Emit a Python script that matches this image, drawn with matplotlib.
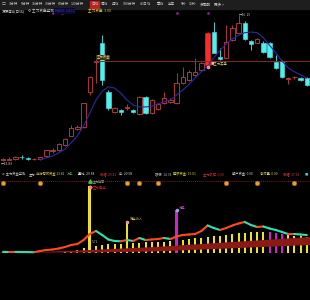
import numpy as np
import matplotlib
matplotlib.use('Agg')
import matplotlib.pyplot as plt
from matplotlib.collections import LineCollection
from matplotlib.patches import Rectangle

plt.rcParams['font.family'] = ['Noto Sans CJK SC', 'DejaVu Sans']

# toolbar periods
periods = ['1分钟', '5分钟', '15分钟', '30分钟', '60分钟', '120分钟', '日线', '周线', '月线',
           '180分钟', '45日线', '季线', '半年', '5秒', '15秒', '多周期', '更多 >']
period_x = [9, 21, 32, 45, 58, 71, 91, 101, 112, 123, 140, 157, 168, 181, 189, 200, 214]

# daily candles
opens = [13.85, 13.85, 13.86, 13.90, 13.88, 13.86, 13.86, 13.91, 13.99, 14.00,
         14.08, 14.23, 14.34, 14.37, 14.93, 15.40, 15.71, 14.93, 14.61, 14.64,
         14.68, 14.64, 14.58, 14.85, 14.59, 14.66, 14.75, 14.77, 14.75, 15.07,
         15.12, 15.20, 15.28, 15.36, 15.88, 15.48, 15.47, 15.75, 15.87, 16.02,
         15.74, 15.71, 15.71, 15.71, 15.40, 15.42, 15.14, 15.16, 15.15, 15.15]
highs = [13.88, 13.89, 13.91, 13.92, 13.89, 13.88, 13.90, 14.01, 14.03, 14.11,
         14.19, 14.40, 14.40, 14.76, 15.18, 15.45, 15.83, 14.96, 14.69, 14.66,
         14.74, 14.66, 14.86, 14.87, 14.82, 14.75, 14.93, 14.83, 15.23, 15.32,
         15.28, 15.47, 15.41, 15.88, 16.04, 15.63, 15.99, 15.99, 16.15, 16.06,
         15.75, 15.79, 15.74, 15.72, 15.52, 15.44, 15.17, 15.18, 15.17, 15.16]
lows = [13.83, 13.84, 13.85, 13.87, 13.85, 13.85, 13.85, 13.90, 13.96, 13.99,
        14.07, 14.22, 14.33, 14.36, 14.88, 15.07, 15.04, 14.64, 14.59, 14.56,
        14.64, 14.59, 14.56, 14.58, 14.58, 14.64, 14.74, 14.75, 14.74, 15.05,
        15.10, 15.18, 15.26, 15.34, 15.54, 15.44, 15.45, 15.74, 15.86, 15.75,
        15.59, 15.70, 15.55, 15.47, 15.30, 15.15, 15.05, 15.14, 15.10, 15.02]
closes = [13.86, 13.87, 13.89, 13.89, 13.86, 13.87, 13.89, 14.00, 14.00, 14.10,
          14.18, 14.35, 14.37, 14.75, 15.17, 15.42, 15.12, 14.67, 14.67, 14.61,
          14.69, 14.61, 14.85, 14.59, 14.80, 14.74, 14.83, 14.80, 15.07, 15.17,
          15.25, 15.25, 15.39, 15.87, 15.55, 15.45, 15.72, 15.94, 16.02, 15.77,
          15.69, 15.77, 15.56, 15.48, 15.31, 15.17, 15.15, 15.17, 15.12, 15.04]
ma60 = [np.nan] * 6 + [13.85, 13.88, 13.91, 13.96, 14.02, 14.12, 14.23, 14.39, 14.59, 14.80,
                       14.94, 15.01, 14.99, 14.91, 14.80, 14.72, 14.69, 14.69, 14.70, 14.74,
                       14.77, 14.80, 14.88, 14.96, 15.05, 15.15, 15.25, 15.34, 15.47, 15.59,
                       15.69, 15.77, 15.83, 15.87, 15.88, 15.87, 15.79, 15.67, 15.55, 15.42,
                       15.31, 15.25, 15.20, 15.15]
strong_day = 33          # big solid red candle
pressure_level = 15.42   # horizontal line
pressure_start = 14.8
top_marks = [8, 9.5, 28, 33]
high_day, high_price = 38, 16.15
low_day, low_price = 0, 13.83

# indicator pane
flow_line = [0.12, 0.10, 0.12, 0.10, 0.08, 0.06, 0.3, 0.5, 0.6, 0.8,
             1.1, 1.5, 1.7, 2.5, 3.7, 4.3, 3.5, 2.6, 2.3, 2.25,
             2.5, 2.3, 2.9, 2.5, 2.6, 2.7, 2.9, 2.7, 3.2, 3.5,
             3.6, 3.7, 4.3, 5.4, 4.9, 4.5, 4.9, 5.4, 5.8, 6.1,
             5.5, 5.1, 5.2, 4.8, 4.5, 4.1, 3.7, 3.7, 3.6, 3.5]
flow_bars = [0, 0, 0, 0, 0, 0, 0, 0, 0, 0,
             0.1, 0.3, 0.5, 0.9, 13.3, 1.3, 1.5, 1.7, 1.7, 1.7,
             6.1, 1.9, 1.9, 2.1, 2.1, 2.1, 2.1, 2.3, 8.5, 2.5,
             2.7, 2.9, 2.9, 3.1, 3.3, 3.3, 3.5, 3.7, 3.9, 3.9,
             4.1, 4.1, 4.1, 4.1, 3.9, 3.7, 3.5, 3.4, 3.3, 3.2]
wash_days = [28, 43, 44, 45]
spike_days = [14, 20, 28]
wedge_x = [-0.5, 6, 14, 24.5, 49.6]
wedge_lo = [0, 0, 0, 0.2, 1.5]
wedge_hi = [0.1, 0.1, 0.5, 1.1, 3.1]
signal_days = [0, 6, 20, 22, 25, 36, 41, 47]

header_items = [('⚙ 主力资金监测', 2, '#c8c8c8'), ('主力:', 29, '#c8c8c8'),
                ('当时有效资金 13.82', 36, '#e0d040'), ('万手', 67, '#70a060'),
                ('量比: 29.58', 78, '#e0e0e0'), ('涨幅: 29.42', 100, '#e03030'),
                ('中: 29.58', 119, '#e0e0e0'), ('强弱: 14.38', 155, '#b0b0b0'),
                ('超额资金: 15.01', 173, '#d8d040'), ('主力吸筹: 0.00', 203, '#e03030'),
                ('散户资金: 0.00', 232, '#d0d0d0'), ('净流量: 0.00', 260, '#d8d040'),
                ('涨幅: 17.32', 283, '#e04040'), ('■', 305, '#30d0d0')]

RED = '#c84040'
CYAN = '#50f0f0'


def fy(y):
    return 1 - y / 300.0


fig = plt.figure(figsize=(3.1, 3.0), dpi=100, facecolor='black')

# toolbar
fig.patches.append(Rectangle((0, fy(8.5)), 1, 8.5 / 300, transform=fig.transFigure,
                             color='#1e1e1e', zorder=0))
fig.text(2 / 310, fy(4.3), '□', color='#b0b0b0', fontsize=2.8, va='center')
for lab, x in zip(periods, period_x):
    if lab == '日线':
        fig.patches.append(Rectangle(((x - 1.5) / 310, fy(7.8)), 10 / 310, 7 / 300,
                                     transform=fig.transFigure, color='#c02020'))
    fig.text(x / 310, fy(4.3), lab, color='#c8c8c8', fontsize=2.6, va='center')

# title line
fig.text(2 / 310, fy(11), '深深房A(日线)', color='#d0d0d0', fontsize=2.6, va='center')
fig.text(28 / 310, fy(11), '⚙ 主力资金监测', color='#c8c8c8', fontsize=2.6, va='center')
fig.text(55 / 310, fy(11), 'MA60: 14.11', color='#3030d0', fontsize=2.6, va='center',
         bbox=dict(boxstyle='square,pad=0.15', fc='#0a0a30', ec='none'))
fig.text(88 / 310, fy(11), '主力资金: 3.00', color='#e0d040', fontsize=2.6, va='center')

# main candle pane
ax = fig.add_axes([0, fy(168), 1, (168 - 15) / 300])
ax.set_xlim(-0.48, 49.52)
ax.set_ylim(13.719, 16.151)
ax.axis('off')

w = 0.72
for i in range(len(opens)):
    o, h, l, c = opens[i], highs[i], lows[i], closes[i]
    up = c >= o
    col = RED if up else CYAN
    if i == strong_day:
        col = '#ff2a2a'
    b0, b1 = min(o, c), max(o, c)
    ax.vlines(i, l, b0, color=col, lw=0.6)
    ax.vlines(i, b1, h, color=col, lw=0.6)
    hgt = max(b1 - b0, 0.006)
    if up and i != strong_day:
        ax.add_patch(Rectangle((i - w / 2, b0), w, hgt, facecolor='black', edgecolor=col, lw=0.6))
    else:
        ax.add_patch(Rectangle((i - w / 2, b0), w, hgt, facecolor=col, edgecolor=col, lw=0.4))

ax.plot(range(len(ma60)), ma60, color='#2a2aa8', lw=0.8)
ax.hlines(pressure_level, pressure_start, 49.6, color='#8a2a2a', lw=0.7)
ax.text(15.1, 15.48, '主力资金', color='#d8c878', fontsize=2.4, va='center',
        bbox=dict(boxstyle='square,pad=0.1', fc='#3a3410', ec='none'))
ax.plot(strong_day, lows[strong_day] - 0.02, 'o', color='#ff8080', ms=2.2, mec='#ffd0d0', mew=0.3)
ax.text(strong_day + 0.5, lows[strong_day] + 0.03, '■主力买盘', color='#d8c870', fontsize=2.4,
        va='center')
ax.text(high_day, high_price, '←16.15', color='#c8c8c8', fontsize=2.5, va='center',
        clip_on=False)
ax.text(low_day - 0.4, low_price - 0.05, '←13.83', color='#c8c8c8', fontsize=2.5,
        va='center')
ax.plot(top_marks, [16.18] * len(top_marks), 's', color='#a020a0', ms=0.8, clip_on=False)

# indicator header
for txt, x, col in header_items:
    fig.text(x / 310, fy(174), txt, color=col, fontsize=2.35, va='center')

# indicator pane
ax2 = fig.add_axes([0, 0, 1, (300 - 176) / 300])
ax2.set_xlim(-0.48, 49.52)
ax2.set_ylim(-9.5, 15.3)
ax2.axis('off')

ax2.axhline(14.3, color='#8a2424', lw=0.7, linestyle=(0, (0.8, 1.2)))

idx = np.arange(len(flow_bars))
bar_cols = []
for i in idx:
    if i in wash_days:
        bar_cols.append('#d020d0')
    else:
        bar_cols.append('#f0e020')
widths = [0.42 if i in spike_days else 0.32 for i in idx]
ax2.bar(idx, flow_bars, width=widths, color=bar_cols, zorder=2)

ax2.fill_between(wedge_x, wedge_lo, wedge_hi, color='#8c1a14', lw=0, zorder=3)

pts = np.column_stack([idx, flow_line])
segs = np.stack([pts[:-1], pts[1:]], axis=1)
seg_cols = ['#ff4a1c' if flow_line[k + 1] >= flow_line[k] else '#30e0b0'
            for k in range(len(flow_line) - 1)]
ax2.add_collection(LineCollection(segs, colors=seg_cols, lw=1.5, zorder=4,
                                  capstyle='round', joinstyle='round'))

# signal markers
ax2.plot(signal_days, [13.9] * len(signal_days), 'o', color='#e8a030', mec='#905010',
         mew=0.4, ms=3.4, zorder=5)
ax2.plot(14, 14.3, '^', color='#40c040', ms=2.5, zorder=6)
ax2.plot(14, 13.1, 'o', color='#ff7080', mec='#ffc0c0', mew=0.3, ms=2.4, zorder=6)
ax2.text(14.5, 14.3, '主力抢筹', color='#a0b090', fontsize=2.2, va='center')
ax2.text(14.5, 12.9, '主力建仓', color='#e02020', fontsize=2.4, va='center')
ax2.text(14.3, 2.1, '5.71', color='#b0b0b0', fontsize=2.4, va='center', zorder=6)
ax2.plot(20, flow_bars[20], 'o', color='#ff8090', mec='#ffd0d0', mew=0.3, ms=2.2, zorder=6)
ax2.text(20.4, 6.7, '资金流入', color='#d0c060', fontsize=2.3, va='center')
ax2.plot(28, flow_bars[28], 'o', color='#80a0e0', mec='#c0d0ff', mew=0.3, ms=2.2, zorder=6)
ax2.text(28.4, 8.9, '洗盘', color='#c040c0', fontsize=2.4, va='center')

fig.savefig('out.png', dpi=100, facecolor='black')
